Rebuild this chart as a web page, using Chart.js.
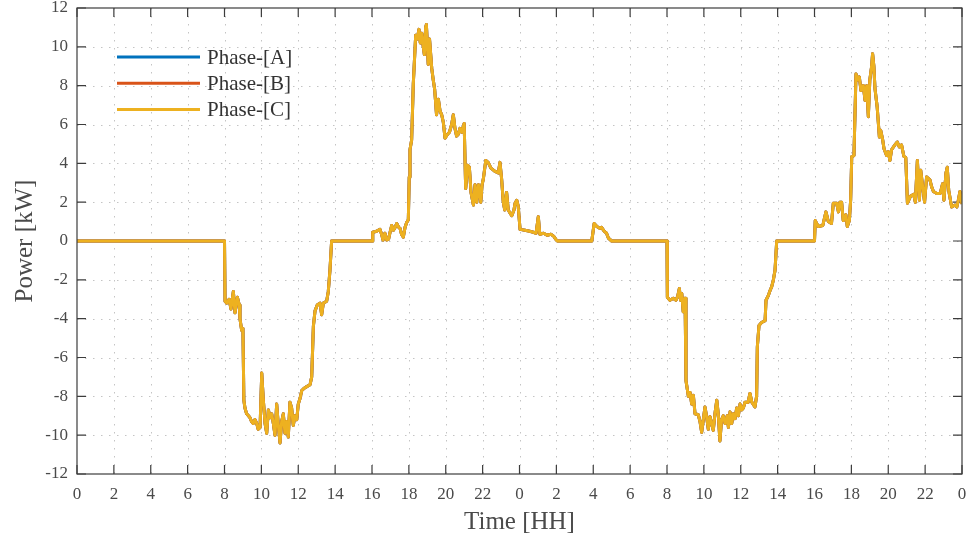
<!DOCTYPE html>
<html>
<head>
<meta charset="utf-8">
<script src="https://cdn.jsdelivr.net/npm/chart.js@4"></script>
<style>
  html, body { margin: 0; padding: 0; background: #fff; }
  #wrap { width: 967px; height: 538px; position: relative; }
</style>
</head>
<body>
<div id="wrap"><canvas id="chart"></canvas></div>
<script>
// Time axis in hours from the first midnight (two days)
const hours = [
  0, 8.0, 8.03, 8.12, 8.25, 8.35, 8.48, 8.57, 8.7, 8.8, 8.84, 8.93, 9.0, 9.05, 9.11, 9.2, 9.3, 9.38, 9.47, 9.56,
  9.65, 9.75, 9.83, 9.93, 10.02, 10.1, 10.2, 10.29, 10.38, 10.47, 10.56, 10.65, 10.74, 10.83, 10.92, 11.01, 11.1, 11.19, 11.28, 11.37,
  11.46, 11.55, 11.64, 11.73, 11.82, 11.92, 12.0, 12.1, 12.19, 12.3, 12.46, 12.64, 12.73, 12.82, 12.91, 13.03, 13.18, 13.27, 13.36, 13.54,
  13.63, 13.72, 13.81, 16.0, 16.04, 16.25, 16.43, 16.52, 16.6, 16.7, 16.8, 16.9, 16.98, 17.07, 17.16, 17.25, 17.34, 17.45, 17.52, 17.6,
  17.7, 17.79, 17.88, 17.97, 18.02, 18.06, 18.15, 18.24, 18.37, 18.45, 18.55, 18.62, 18.7, 18.78, 18.84, 18.91, 18.95, 19.05, 19.12, 19.24,
  19.32, 19.4, 19.5, 19.6, 19.69, 19.78, 19.87, 19.96, 20.1, 20.2, 20.32, 20.41, 20.5, 20.59, 20.68, 20.77, 20.86, 21.0, 21.08, 21.19,
  21.28, 21.37, 21.5, 21.59, 21.68, 21.78, 21.9, 21.97, 22.04, 22.17, 22.3, 22.45, 22.65, 22.85, 22.94, 23.03, 23.12, 23.2, 23.3, 23.39,
  23.45, 23.58, 23.7, 23.76, 23.85, 23.93, 24.03, 24.3, 24.55, 24.75, 24.9, 25.02, 25.1, 25.3, 25.5, 25.7, 25.85, 26.0, 26.05, 27.92,
  28.05, 28.2, 28.35, 28.45, 28.6, 28.72, 28.82, 29.0, 32.0, 32.02, 32.16, 32.34, 32.49, 32.58, 32.67, 32.74, 32.8, 32.88, 32.98, 33.03,
  33.16, 33.25, 33.34, 33.43, 33.52, 33.7, 33.79, 33.88, 33.97, 34.06, 34.15, 34.24, 34.33, 34.42, 34.51, 34.6, 34.7, 34.78, 34.87, 34.96,
  35.05, 35.15, 35.27, 35.33, 35.42, 35.51, 35.6, 35.69, 35.78, 35.87, 35.96, 36.05, 36.14, 36.23, 36.4, 36.5, 36.6, 36.77, 36.86, 36.9,
  36.99, 37.13, 37.32, 37.37, 37.5, 37.59, 37.68, 37.77, 37.86, 37.95, 40.0, 40.04, 40.2, 40.45, 40.62, 40.75, 40.92, 41.02, 41.2, 41.3,
  41.38, 41.47, 41.56, 41.7, 41.78, 41.89, 41.96, 42.02, 42.14, 42.25, 42.34, 42.43, 42.52, 42.65, 42.74, 42.83, 42.92, 43.0, 43.1, 43.15,
  43.22, 43.28, 43.4, 43.52, 43.59, 43.7, 43.77, 43.91, 44.0, 44.09, 44.18, 44.36, 44.49, 44.6, 44.72, 44.85, 44.95, 45.04, 45.2, 45.38,
  45.47, 45.58, 45.69, 45.76, 45.88, 45.97, 46.08, 46.26, 46.35, 46.45, 46.63, 46.82, 46.95, 47.02, 47.13, 47.2, 47.28, 47.44, 47.62, 47.72,
  47.8, 47.89, 48.0
];

// Power in kW
const phaseA = [
  0, 0, -3.1, -3.2, -3.0, -3.5, -2.6, -3.7, -2.9, -3.3, -4.0, -4.6, -4.5, -8.2, -8.6, -8.9, -9.0, -9.1, -9.3, -9.4,
  -9.2, -9.4, -9.7, -9.6, -6.8, -8.1, -9.4, -9.9, -8.7, -9.1, -8.9, -9.4, -10.0, -8.4, -9.5, -10.4, -9.3, -8.9, -9.9, -9.3,
  -10.1, -8.3, -8.6, -9.5, -9.0, -9.2, -8.4, -8.1, -7.7, -7.6, -7.5, -7.4, -7.0, -4.4, -3.6, -3.3, -3.2, -3.8, -3.2, -3.1,
  -2.6, -1.5, 0, 0, 0.45, 0.5, 0.6, 0.35, 0.05, 0.4, 0.05, 0.1, 0.45, 0.8, 0.55, 0.7, 0.9, 0.7, 0.65, 0.35,
  0.2, 0.7, 0.95, 1.1, 3.3, 4.7, 5.2, 8.1, 10.6, 10.4, 10.9, 10.2, 10.7, 10.0, 9.6, 11.0, 11.15, 9.1, 10.4, 8.9,
  8.3, 7.8, 6.5, 7.3, 6.7, 6.5, 6.1, 5.3, 5.5, 5.6, 6.0, 6.5, 5.8, 5.4, 5.5, 5.8, 5.6, 6.05, 2.7, 3.9,
  3.8, 2.5, 1.85, 2.9, 2.0, 2.9, 2.0, 2.9, 3.2, 4.15, 4.05, 3.75, 3.6, 3.5, 4.05, 3.2, 2.0, 1.6, 2.5, 1.6,
  1.5, 1.3, 1.6, 1.95, 2.1, 1.8, 0.6, 0.55, 0.5, 0.45, 0.4, 1.25, 0.35, 0.4, 0.3, 0.35, 0.25, 0.05, 0, 0,
  0.9, 0.75, 0.65, 0.7, 0.5, 0.4, 0.15, 0, 0, -2.9, -3.05, -2.95, -3.05, -2.85, -2.45, -3.05, -2.7, -3.65, -2.95, -7.2,
  -8.0, -7.8, -8.4, -7.95, -8.9, -8.95, -9.3, -9.85, -9.2, -8.55, -9.05, -9.7, -9.05, -9.4, -9.75, -8.9, -8.2, -8.9, -10.3, -9.2,
  -9.0, -9.4, -9.0, -9.6, -8.8, -9.4, -8.9, -9.15, -8.6, -9.0, -8.4, -8.7, -8.6, -8.3, -8.3, -7.85, -8.3, -8.55, -8.0, -5.45,
  -4.35, -4.2, -4.1, -3.05, -2.8, -2.55, -2.35, -2.0, -1.5, 0, 0, 1.05, 0.75, 0.8, 1.5, 1.0, 0.9, 1.95, 1.95, 1.5,
  2.0, 2.0, 1.05, 1.35, 0.75, 1.05, 2.1, 4.35, 4.4, 8.6, 8.3, 8.45, 7.75, 8.0, 7.25, 8.0, 6.4, 8.3, 9.0, 9.65,
  9.0, 7.85, 6.9, 5.35, 5.7, 5.2, 4.75, 4.4, 4.6, 4.15, 4.7, 4.95, 5.1, 4.85, 4.95, 4.35, 4.3, 1.95, 2.3, 2.4,
  2.0, 4.15, 2.1, 3.65, 2.7, 2.0, 3.3, 3.15, 2.8, 2.55, 2.45, 2.45, 2.95, 2.1, 3.5, 3.8, 2.6, 1.75, 1.85, 1.75,
  2.1, 2.55, 1.9
];
// the three phase traces coincide in the picture
const phaseB = phaseA;
const phaseC = phaseA;

const seriesNames = ['Phase-[A]', 'Phase-[B]', 'Phase-[C]'];
const seriesColors = ['#0072BD', '#D95319', '#EDB120'];
const seriesValues = [phaseA, phaseB, phaseC];

const xTicks = [0, 48, 2];     // min, max, step (hours)
const yTicks = [-12, 12, 2];   // min, max, step (kW)

const serif = "'Liberation Serif', 'Times New Roman', serif";
const textColor = '#4a4a4a';

// dotted grid + box with inward ticks, like the original figure
const framePlugin = {
  id: 'framePlugin',
  beforeDatasetsDraw(chart) {
    const {ctx, chartArea: a, scales: {x, y}} = chart;
    const tl = 9;
    ctx.save();
    ctx.strokeStyle = '#c4c4c4';
    ctx.lineWidth = 1;
    ctx.setLineDash([1.5, 6.5]);
    x.ticks.forEach(t => {
      const px = Math.round(x.getPixelForValue(t.value)) + 0.5;
      if (px <= a.left + 1 || px >= a.right - 1) return;
      ctx.beginPath(); ctx.moveTo(px, a.top); ctx.lineTo(px, a.bottom); ctx.stroke();
    });
    y.ticks.forEach(t => {
      const py = Math.round(y.getPixelForValue(t.value)) + 0.5;
      if (py <= a.top + 1 || py >= a.bottom - 1) return;
      ctx.beginPath(); ctx.moveTo(a.left, py); ctx.lineTo(a.right, py); ctx.stroke();
    });
    ctx.setLineDash([]);
    ctx.strokeStyle = '#3c3c3c';
    ctx.lineWidth = 1.2;
    ctx.beginPath();
    x.ticks.forEach(t => {
      const px = x.getPixelForValue(t.value);
      ctx.moveTo(px, a.bottom); ctx.lineTo(px, a.bottom - tl);
      ctx.moveTo(px, a.top); ctx.lineTo(px, a.top + tl);
    });
    y.ticks.forEach(t => {
      const py = y.getPixelForValue(t.value);
      ctx.moveTo(a.left, py); ctx.lineTo(a.left + tl, py);
      ctx.moveTo(a.right, py); ctx.lineTo(a.right - tl, py);
    });
    ctx.stroke();
    ctx.restore();
  },
  afterDatasetsDraw(chart) {
    const {ctx, chartArea: a} = chart;
    ctx.save();
    ctx.strokeStyle = '#3c3c3c';
    ctx.lineWidth = 1.2;
    ctx.strokeRect(a.left, a.top, a.right - a.left, a.bottom - a.top);
    ctx.restore();
  },
  afterDraw(chart) {
    // legend inside the plot, upper left, no box
    const {ctx, chartArea: a} = chart;
    ctx.save();
    ctx.font = '21px ' + serif;
    ctx.textBaseline = 'middle';
    chart.data.datasets.forEach((ds, i) => {
      const yy = a.top + 49 + i * 26.3;
      ctx.strokeStyle = ds.borderColor;
      ctx.lineWidth = 3;
      ctx.beginPath();
      ctx.moveTo(a.left + 40, yy);
      ctx.lineTo(a.left + 123, yy);
      ctx.stroke();
      ctx.fillStyle = '#333';
      ctx.fillText(ds.label, a.left + 130, yy + 1);
    });
    ctx.restore();
  }
};

const datasets = seriesNames.map((name, i) => ({
  label: name,
  data: hours.map((h, k) => ({x: h, y: seriesValues[i][k]})),
  borderColor: seriesColors[i],
  backgroundColor: seriesColors[i],
  borderWidth: 3,
  borderJoinStyle: 'round',
  pointRadius: 0,
  tension: 0,
  fill: false,
  order: seriesNames.length - i   // Phase-[C] ends up on top
}));

new Chart(document.getElementById('chart'), {
  type: 'line',
  data: { datasets: datasets },
  options: {
    responsive: true,
    maintainAspectRatio: false,
    animation: false,
    events: [],
    layout: { padding: { top: 8, right: 5, left: 0, bottom: 0 } },
    plugins: {
      legend: { display: false },
      tooltip: { enabled: false }
    },
    scales: {
      x: {
        type: 'linear',
        min: xTicks[0],
        max: xTicks[1],
        grid: { display: false, drawTicks: false },
        border: { display: false },
        ticks: {
          stepSize: xTicks[2],
          autoSkip: false,
          maxRotation: 0,
          padding: 10,
          color: textColor,
          font: { family: serif, size: 17 },
          callback: v => String(v % 24)
        },
        title: {
          display: true,
          text: 'Time [HH]',
          color: textColor,
          font: { family: serif, size: 25 },
          padding: { top: 0, bottom: 1 }
        },
        afterFit: s => {
          s.height = 64;
          s.paddingLeft = 0; s.paddingRight = 0;
        }
      },
      y: {
        min: yTicks[0],
        max: yTicks[1],
        grid: { display: false, drawTicks: false },
        border: { display: false },
        ticks: {
          stepSize: yTicks[2],
          autoSkip: false,
          padding: 9,
          color: textColor,
          font: { family: serif, size: 17 }
        },
        title: {
          display: true,
          text: 'Power [kW]',
          color: textColor,
          font: { family: serif, size: 25 },
          padding: { top: 10, bottom: 0 }
        },
        afterFit: s => {
          s.width = 77;
          s.paddingTop = 0; s.paddingBottom = 0;
        }
      }
    }
  },
  plugins: [framePlugin]
});
</script>
</body>
</html>
